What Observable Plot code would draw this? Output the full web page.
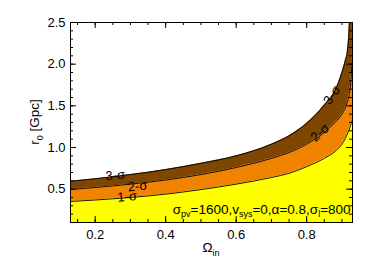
<!DOCTYPE html>
<html><head><meta charset="utf-8">
<script src="https://cdn.jsdelivr.net/npm/d3@7"></script>
<script src="https://cdn.jsdelivr.net/npm/@observablehq/plot@0.6"></script>
<style>
body{margin:0;background:#fff;}
svg{font-family:"Liberation Sans",Arial,Helvetica,sans-serif;}
</style>
</head><body><div id="chart"></div>
<script>
// Omega_in sample positions and the three contour levels r0 [Gpc]
const omega  = [0.13, 0.2, 0.3, 0.4, 0.5, 0.6, 0.7, 0.75, 0.8, 0.85, 0.88, 0.9, 0.91, 0.915, 0.92, 0.925, 0.93];
const sigma1 = [0.352, 0.37, 0.40, 0.44, 0.495, 0.56, 0.64, 0.69, 0.77, 0.87, 0.95, 1.04, 1.11, 1.16, 1.21, 1.27, 1.34];
const sigma2 = [0.496, 0.52, 0.56, 0.61, 0.675, 0.76, 0.87, 0.94, 1.04, 1.18, 1.30, 1.40, 1.48, 1.54, 1.62, 1.78, 2.15];
const sigma3 = [0.595, 0.625, 0.675, 0.735, 0.81, 0.90, 1.04, 1.14, 1.29, 1.51, 1.68, 1.90, 2.05, 2.14, 2.40, 3.0, 3.8];

const xDomain = [0.13, 0.93];
const yDomain = [0.1, 2.5];
const xTickLabels = [0.2, 0.4, 0.6, 0.8];
const yTickLabels = [0.5, 1.0, 1.5, 2.0, 2.5];

// contour labels: text, Omega, r0, rotation
const labelText  = ["3-σ", "2-σ", "1-σ", "2-σ", "3-σ"];
const labelOmega = [0.257, 0.32, 0.291, 0.838, 0.872];
const labelR     = [0.665, 0.535, 0.41, 1.18, 1.63];
const labelAngle = [-6, -6, -5, -42, -55];

const colYellow = "#ffff00", colOrange = "#f08400", colBrown = "#7e4600";

const data = omega.map((x, i) => ({x, s1: sigma1[i], s2: sigma2[i], s3: sigma3[i]}));
const labels = labelText.map((t, i) => ({t, x: labelOmega[i], y: labelR[i], a: labelAngle[i]}));

const W = 374, H = 267, mL = 70, mR = 22, mT = 22, mB = 45;
const iW = W - mL - mR, iH = H - mT - mB;
const xMinor = d3.range(0.15, 0.926, 0.05);
const yMinor = d3.range(0.1, 2.501, 0.1);
const curve = "monotone-x";

const plot = Plot.plot({
  width: W, height: H,
  marginLeft: mL, marginRight: mR, marginTop: mT, marginBottom: mB,
  style: {fontFamily: '"Liberation Sans",Arial,sans-serif', fontSize: "13px", color: "black", background: "white"},
  x: {domain: xDomain},
  y: {domain: yDomain},
  marks: [
    Plot.areaY(data, {x: "x", y1: yDomain[0], y2: "s1", fill: colYellow, curve, clip: true}),
    Plot.areaY(data, {x: "x", y1: "s1", y2: "s2", fill: colOrange, curve, clip: true}),
    Plot.areaY(data, {x: "x", y1: "s2", y2: "s3", fill: colBrown, curve, clip: true}),
    Plot.lineY(data, {x: "x", y: "s1", stroke: "black", strokeWidth: 0.9, curve, clip: true}),
    Plot.lineY(data, {x: "x", y: "s2", stroke: "black", strokeWidth: 0.9, curve, clip: true}),
    Plot.lineY(data, {x: "x", y: "s3", stroke: "black", strokeWidth: 0.9, curve, clip: true}),
    Plot.text(labels, {x: "x", y: "y", text: "t", rotate: "a", fill: "black", fontSize: 13, textAnchor: "middle", lineAnchor: "middle"}),
    // inward ticks on all four sides
    Plot.tickX(xMinor, {x: d => d, insetTop: iH - 3, stroke: "black"}),
    Plot.tickX(xMinor, {x: d => d, insetBottom: iH - 3, stroke: "black"}),
    Plot.tickX(xTickLabels, {x: d => d, insetTop: iH - 6, stroke: "black"}),
    Plot.tickX(xTickLabels, {x: d => d, insetBottom: iH - 6, stroke: "black"}),
    Plot.tickY(yMinor, {y: d => d, insetRight: iW - 3, stroke: "black"}),
    Plot.tickY(yMinor, {y: d => d, insetLeft: iW - 3, stroke: "black"}),
    Plot.tickY(yTickLabels, {y: d => d, insetRight: iW - 6, stroke: "black"}),
    Plot.tickY(yTickLabels, {y: d => d, insetLeft: iW - 6, stroke: "black"}),
    Plot.axisX({ticks: xTickLabels, tickSize: 0, tickPadding: 7, tickFormat: ".1f", label: null}),
    Plot.axisY({ticks: yTickLabels, tickSize: 0, tickPadding: 5, tickFormat: ".1f", label: null}),
    Plot.frame({stroke: "black"})
  ]
});
document.getElementById("chart").appendChild(plot);

// rich-text annotations with subscripts
const svg = d3.select(plot);
const sx = plot.scale("x"), sy = plot.scale("y");
const font = '"Liberation Sans",Arial,sans-serif';

// parts: [text, isSub, dy]
function rich(sel, size, parts) {
  for (const [txt, sub, dy] of parts) {
    sel.append("tspan").attr("font-size", sub ? 9 : size).attr("dy", dy).text(txt);
  }
}

// annotation
const ann = svg.append("text").attr("x", sx.apply(0.926)).attr("y", sy.apply(0.2))
  .attr("text-anchor", "end").attr("font-size", 13.5).attr("font-family", font).attr("fill", "black");
rich(ann, 13.5, [["σ",false,0],["pv",true,3.5],["=1600,v",false,-3.5],["sys",true,3.5],["=0,α=0.8,σ",false,-3.5],["l",true,3.5],["=800",false,-3.5]]);

// x title
const xt = svg.append("text").attr("x", mL + iW / 2).attr("y", 252)
  .attr("text-anchor", "middle").attr("font-size", 13.5).attr("font-family", font).attr("fill", "black");
rich(xt, 13.5, [["Ω",false,0],["in",true,3.5]]);

// y title
const yt = svg.append("text").attr("transform", `translate(39,${mT + iH / 2}) rotate(-90)`)
  .attr("text-anchor", "middle").attr("font-size", 13.5).attr("font-family", font).attr("fill", "black");
rich(yt, 13.5, [["r",false,0],["0",true,3.5],[" [Gpc]",false,-3.5]]);
</script>
</body></html>
